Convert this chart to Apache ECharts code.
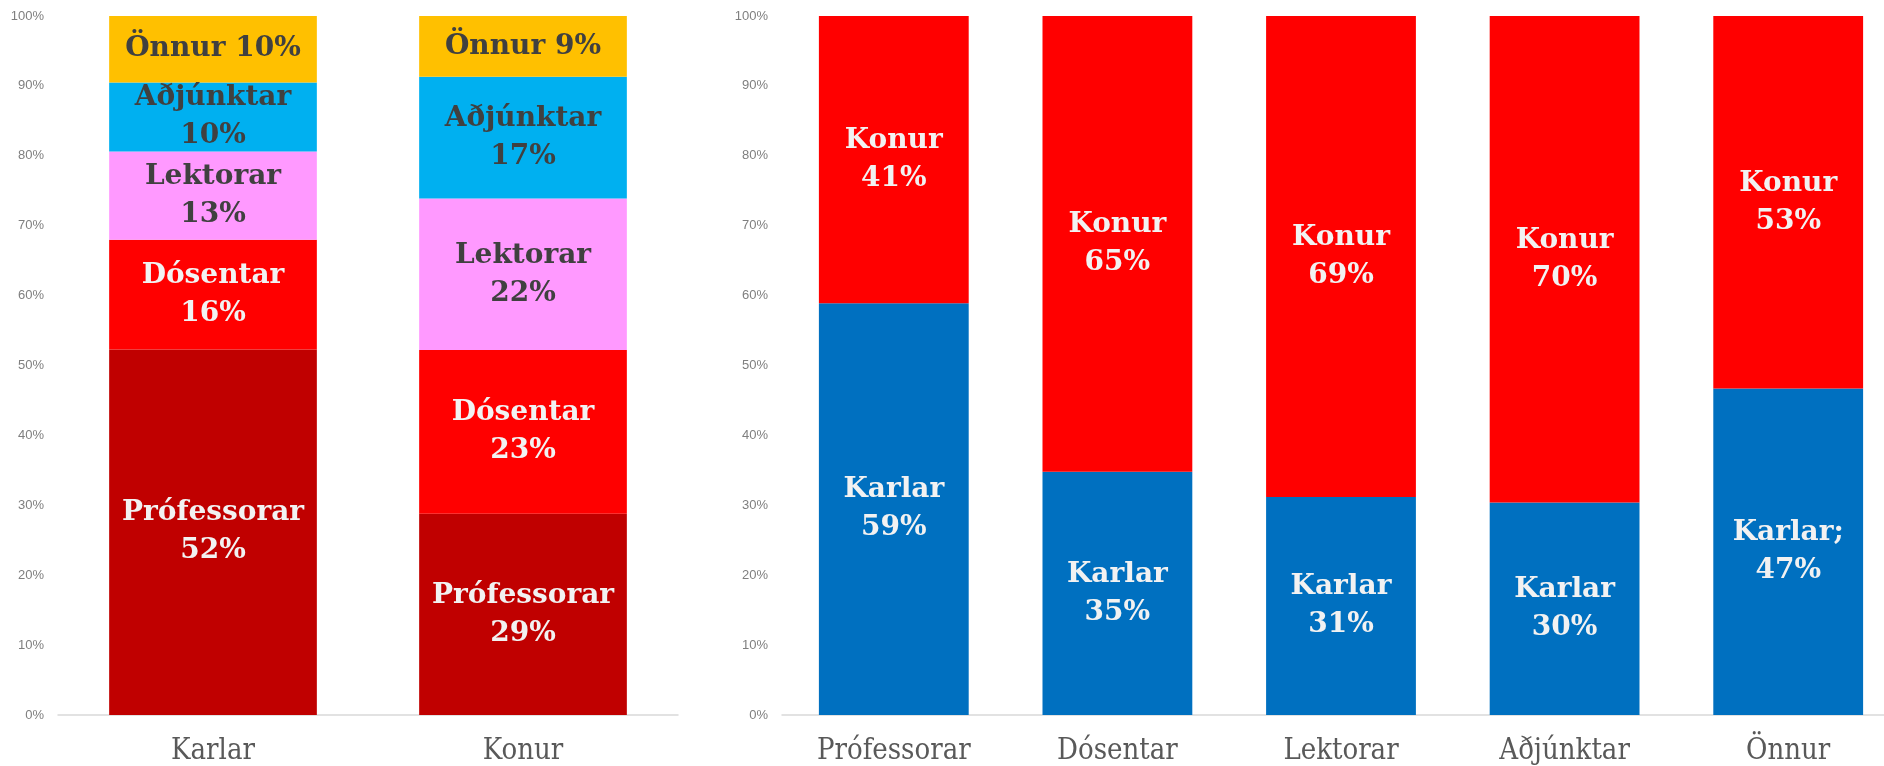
<!DOCTYPE html>
<html>
<head>
<meta charset="utf-8">
<script src="https://cdn.jsdelivr.net/npm/echarts@6/dist/echarts.min.js"></script>
<style>
  html, body { margin: 0; padding: 0; background: #fff; }
  #chart { width: 1884px; height: 766px; }
</style>
</head>
<body>
<div id="chart"></div>
<script>
// left chart: share of each rank within each gender
const genders = ['Karlar', 'Konur'];
const ranks = ['Prófessorar', 'Dósentar', 'Lektorar', 'Aðjúnktar', 'Önnur'];
const professorar = [52.3, 28.8];
const dosentar = [15.7, 23.4];
const lektorar = [12.6, 21.7];
const adjunktar = [9.9, 17.4];
const onnur = [9.5, 8.7];

// right chart: gender split within each rank
const karlarShare = [58.9, 34.8, 31.2, 30.4, 46.7];
const konurShare = [41.1, 65.2, 68.8, 69.6, 53.3];

const yTicks = [0, 10, 20, 30, 40, 50, 60, 70, 80, 90, 100];

const labelFont = '"DejaVu Serif", serif';
const catFont = '"DejaVu Serif Condensed", "DejaVu Serif", serif';

const rankColors = ['#C00000', '#FF0000', '#FF99FF', '#00B0F0', '#FFC000'];
const rankLabelColors = ['#F2F2F2', '#F2F2F2', '#404040', '#404040', '#404040'];
const rankData = [professorar, dosentar, lektorar, adjunktar, onnur];

const labelBase = {
  show: true,
  position: 'inside',
  fontFamily: labelFont,
  fontWeight: 'bold',
  fontSize: 28,
  lineHeight: 38,
  align: 'center'
};

const leftSeries = ranks.map((name, i) => ({
  name: name,
  type: 'bar',
  stack: 'left',
  xAxisIndex: 0,
  yAxisIndex: 0,
  barCategoryGap: '33%',
  data: rankData[i],
  itemStyle: { color: rankColors[i] },
  label: Object.assign({}, labelBase, {
    color: rankLabelColors[i],
    formatter: (p) => name + (name === 'Önnur' ? ' ' : '\n') + Math.round(p.value) + '%'
  })
}));

const rightSeries = [
  {
    name: 'Karlar',
    data: karlarShare,
    color: '#0070C0'
  },
  {
    name: 'Konur',
    data: konurShare,
    color: '#FF0000'
  }
].map((s) => ({
  name: s.name,
  type: 'bar',
  stack: 'right',
  xAxisIndex: 1,
  yAxisIndex: 1,
  barCategoryGap: '33%',
  data: s.data,
  itemStyle: { color: s.color },
  label: Object.assign({}, labelBase, {
    color: '#F2F2F2',
    formatter: (p) => s.name + (s.name === 'Karlar' && p.dataIndex === 4 ? ';\n' : '\n') + Math.round(p.value) + '%'
  })
}));

const xAxisCommon = {
  type: 'category',
  axisTick: { show: false },
  axisLine: { lineStyle: { color: '#D9D9D9', width: 1.5 } },
  axisLabel: { fontFamily: catFont, fontSize: 29, color: '#595959', margin: 22 }
};

const yAxisCommon = {
  type: 'value',
  min: yTicks[0],
  max: yTicks[yTicks.length - 1],
  interval: yTicks[1] - yTicks[0],
  splitLine: { show: false },
  axisLine: { show: false },
  axisTick: { show: false },
  axisLabel: {
    fontFamily: '"Liberation Sans", Arial, sans-serif',
    fontSize: 13,
    color: '#7F7F7F',
    margin: 14,
    formatter: (v) => v + '%'
  }
};

const chart = echarts.init(document.getElementById('chart'));
chart.setOption({
  animation: false,
  grid: [
    { left: 58, top: 16, width: 620, bottom: 51, outerBoundsMode: 'none' },
    { left: 782, top: 16, width: 1118, bottom: 51, outerBoundsMode: 'none' }
  ],
  xAxis: [
    Object.assign({}, xAxisCommon, { gridIndex: 0, data: genders }),
    Object.assign({}, xAxisCommon, { gridIndex: 1, data: ranks })
  ],
  yAxis: [
    Object.assign({}, yAxisCommon, { gridIndex: 0 }),
    Object.assign({}, yAxisCommon, { gridIndex: 1 })
  ],
  series: leftSeries.concat(rightSeries)
});
</script>
</body>
</html>
